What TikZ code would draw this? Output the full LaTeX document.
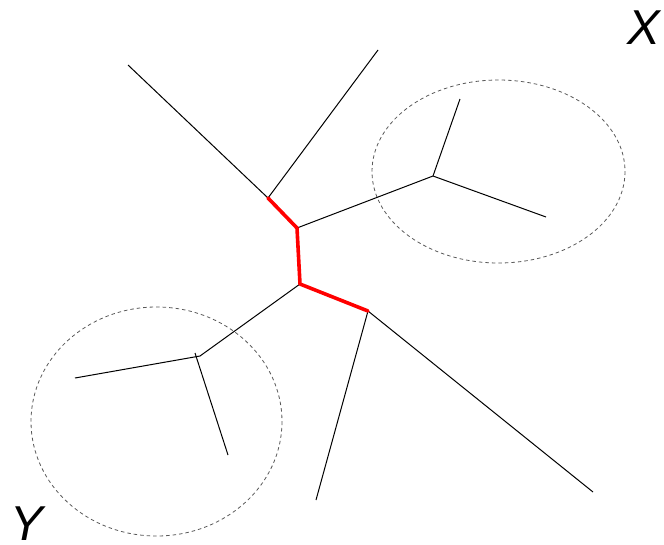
\documentclass[tikz,border=0pt]{standalone}
\usepackage{fontspec}
\setmainfont{Liberation Sans}
\begin{document}
\begin{tikzpicture}[x=1pt,y=-1pt,
  edge/.style={black,line width=1pt},
  redge/.style={red,line width=3.6pt,line cap=round,line join=round},
  ring/.style={black!65,line width=0.8pt,dash pattern=on 3.5pt off 3pt},
  lab/.style={font=\fontsize{49}{49}\selectfont\itshape,inner sep=0pt}]
\useasboundingbox (0,0) rectangle (664,544);
\coordinate (a) at (268,198);
\coordinate (b) at (297,228);
\coordinate (c) at (300,284);
\coordinate (d) at (368,311);
\coordinate (x) at (433,176);
\coordinate (y) at (200,356);
\coordinate (l1) at (128,65);
\coordinate (l2) at (378,50);
\coordinate (l3) at (460,99);
\coordinate (l4) at (546,217);
\coordinate (l5) at (316,500);
\coordinate (l6) at (593,492);
\coordinate (l7) at (75,378);
\coordinate (l8) at (228,455);
\draw[ring] (498.5,171.5) ellipse [x radius=126.5, y radius=91.5];
\draw[ring] (156.5,421.5) ellipse [x radius=125.5, y radius=114.5];
\draw[edge] (l1) -- (a);
\draw[edge] (l2) -- (a);
\draw[edge] (b) -- (x);
\draw[edge] (x) -- (l3);
\draw[edge] (x) -- (l4);
\draw[edge] (c) -- (y);
\draw[edge] (y) -- (l7);
\draw[edge] (195,353) -- (l8);
\draw[edge] (d) -- (l5);
\draw[edge] (d) -- (l6);
\draw[redge] (a) -- (b) -- (c) -- (d);
\node[lab] (X) at (644,28) {X};
\node[lab] (Y) at (27,524) {Y};
\end{tikzpicture}
\end{document}
